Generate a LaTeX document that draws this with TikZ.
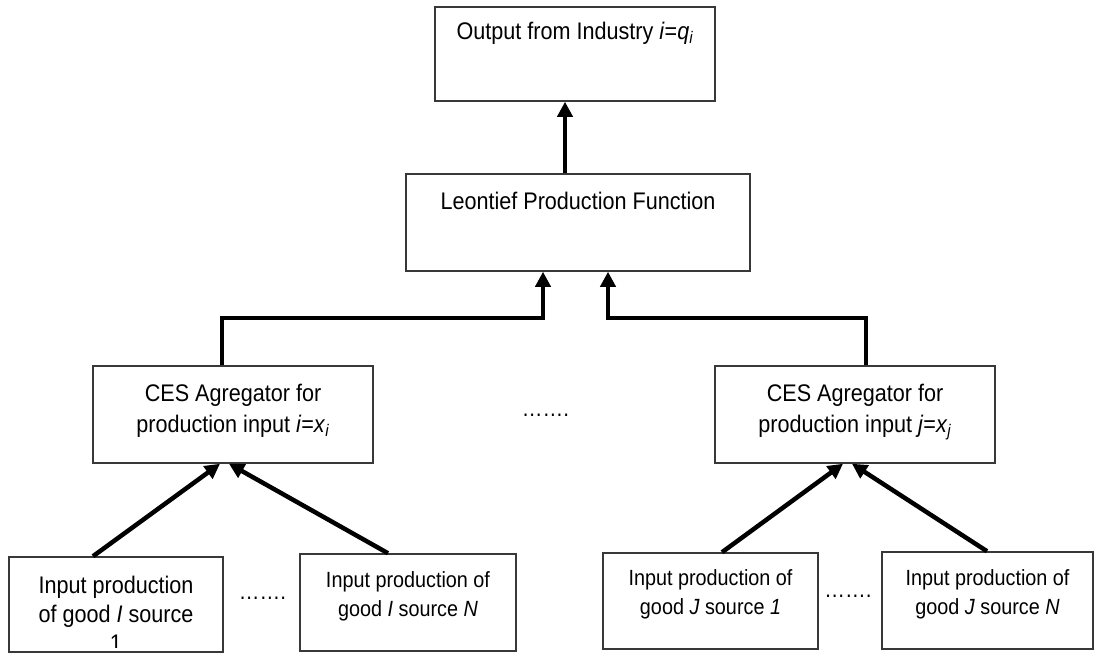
\documentclass[tikz,border=0pt]{standalone}
\usepackage{fontspec}
\setmainfont{Liberation Sans}[FakeStretch=0.9]
\usetikzlibrary{arrows.meta}
\begin{document}
\begin{tikzpicture}[x=1pt,y=-1pt,
  box/.style={draw=black!78, line width=1.5pt, inner sep=0pt, fill=white},
  big/.style={font=\fontsize{24}{31}\selectfont, align=center, inner sep=0pt, anchor=north},
  small/.style={font=\fontsize{22}{29}\selectfont, align=center, inner sep=0pt, anchor=north},
  arr/.style={line width=4.5pt, -{Triangle[length=15pt,width=15pt]}},
  dots/.style={font=\fontsize{23}{29}\selectfont, inner sep=0pt, anchor=base}]
\useasboundingbox (0,0) rectangle (1094,653);

% boxes
\node[box, minimum width=280pt, minimum height=94pt] (top) at (575,54) {};
\node[box, minimum width=344pt, minimum height=97pt] (leon) at (578,222.5) {};
\node[box, minimum width=280pt, minimum height=97pt] (cesL) at (233,414.5) {};
\node[box, minimum width=280pt, minimum height=97pt] (cesR) at (855,414.5) {};
\node[box, minimum width=214pt, minimum height=95pt] (inL1) at (116,604.5) {};
\node[box, minimum width=216pt, minimum height=97pt] (inL2) at (408,602.5) {};
\node[box, minimum width=215pt, minimum height=96pt] (inR1) at (710.5,601) {};
\node[box, minimum width=211pt, minimum height=97pt] (inR2) at (987.5,600.5) {};

% texts
\node[big] (ttop) at ([yshift=-16pt]top.north) {Output from Industry \textit{i}=\textit{q}\textsubscript{\textit{i}}};
\node[big] (tleon) at ([yshift=-19pt]leon.north) {Leontief Production Function};
\node[big] (tcesL) at ([yshift=-19pt]cesL.north) {CES Agregator for\\production input \textit{i}=\textit{x}\textsubscript{\textit{i}}};
\node[big] (tcesR) at ([yshift=-19pt]cesR.north) {CES Agregator for\\production input \textit{j}=\textit{x}\textsubscript{\textit{j}}};
\begin{scope}
\clip (inL1.north west) rectangle ([yshift=5pt]inL1.south east);
\node[big, font=\fontsize{24}{29}\selectfont] (tinL1) at ([yshift=-20pt]inL1.north) {Input production\\of good \textit{I} source\\1};
\end{scope}
\node[small] (tinL2) at ([yshift=-18pt]inL2.north) {Input production of\\good \textit{I} source \textit{N}};
\node[small] (tinR1) at ([yshift=-17pt]inR1.north) {Input production of\\good \textit{J} source \textit{1}};
\node[small] (tinR2) at ([yshift=-18pt]inR2.north) {Input production of\\good \textit{J} source \textit{N}};

% dots
\node[dots] (d1) at (545.5,416.5) {…….};
\node[dots] (d2) at (262.5,599) {…….};
\node[dots] (d3) at (848,597) {…….};

% connector coordinates
\coordinate (c1) at (565,0);
\coordinate (vL) at (222,318);
\coordinate (aL) at (543,318);
\coordinate (aR) at (608,318);
\coordinate (vR) at (866,318);
\coordinate (sL1) at (93,0);
\coordinate (tL1) at (220,0);
\coordinate (sL2) at (388,0);
\coordinate (tL2) at (229,0);
\coordinate (sR1) at (722,0);
\coordinate (tR1) at (843,0);
\coordinate (sR2) at (987,0);
\coordinate (tR2) at (852,0);

% connectors
\draw[arr] (leon.north -| c1) -- (top.south -| c1);
\draw[arr] (cesL.north -| vL) -- (vL) -- (aL) -- (leon.south -| aL);
\draw[arr] (cesR.north -| vR) -- (vR) -- (aR) -- (leon.south -| aR);
\draw[arr] (inL1.north -| sL1) -- (cesL.south -| tL1);
\draw[arr] (inL2.north -| sL2) -- (cesL.south -| tL2);
\draw[arr] (inR1.north -| sR1) -- (cesR.south -| tR1);
\draw[arr] (inR2.north -| sR2) -- (cesR.south -| tR2);
\end{tikzpicture}
\end{document}
